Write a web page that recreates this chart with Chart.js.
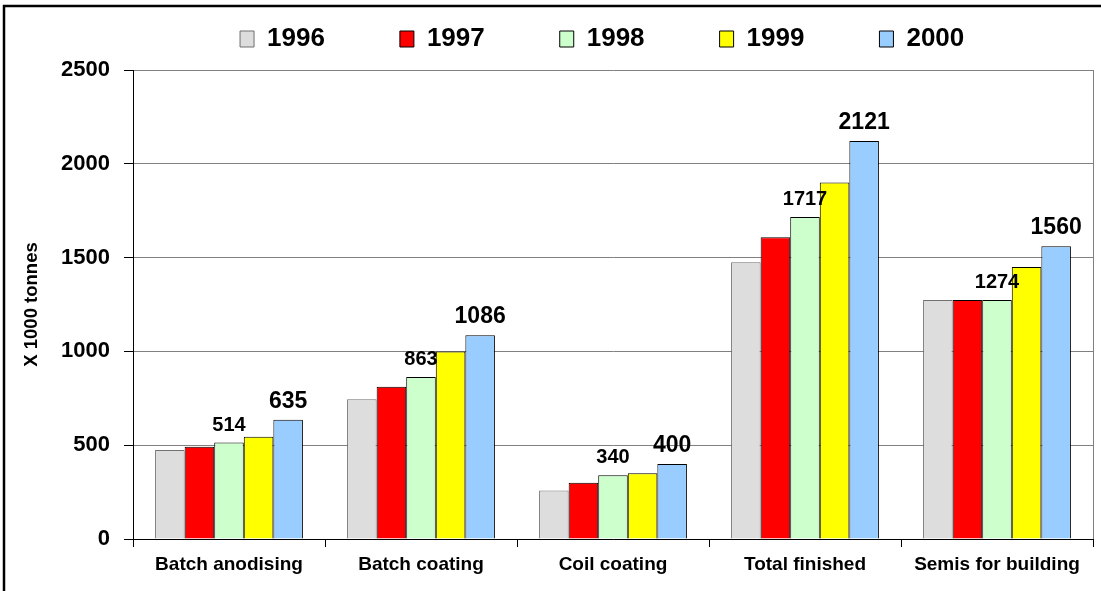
<!DOCTYPE html>
<html lang="en">
<head>
    <meta charset="UTF-8">
    <title>Aluminium finishing</title>
    <style>
      body { margin: 0; background: #fff; }
      #wrap { width: 1101px; height: 591px; }
    </style>
</head>
<body>
  <div id="wrap"><canvas id="myChart"></canvas></div>
  <script src="https://cdn.jsdelivr.net/npm/chart.js"></script>
  <script>
  const categories = ['Batch anodising', 'Batch coating', 'Coil coating', 'Total finished', 'Semis for building'];
  const years = ['1996', '1997', '1998', '1999', '2000'];
  const v1996 = [474, 745, 258, 1475, 1274];
  const v1997 = [492, 812, 300, 1608, 1274];
  const v1998 = [514, 863, 340, 1717, 1274];
  const v1999 = [545, 1000, 350, 1900, 1450];
  const v2000 = [635, 1086, 400, 2121, 1560];
  const yTicks = [0, 500, 1000, 1500, 2000, 2500];

  const colors = ['#DDDDDD', '#FF0000', '#CCFFCC', '#FFFF00', '#99CCFF'];
  const edges = ['#707070', '#000000', '#000000', '#000000', '#000000'];
  const FONT = "'Liberation Sans', Arial, sans-serif";

  // which series get value labels, and their font size
  const labelled = { 2: 20, 4: 23 };

  const valueLabels = {
    id: 'valueLabels',
    afterDatasetsDraw(chart) {
      const ctx = chart.ctx;
      ctx.save();
      ctx.fillStyle = '#000';
      ctx.textAlign = 'center';
      ctx.textBaseline = 'alphabetic';
      Object.keys(labelled).forEach(k => {
        const i = Number(k);
        ctx.font = 'bold ' + labelled[k] + 'px ' + FONT;
        chart.getDatasetMeta(i).data.forEach((bar, j) => {
          ctx.fillText(chart.data.datasets[i].data[j], bar.x, bar.y - 12);
        });
      });
      ctx.restore();
    }
  };

  const frame = {
    id: 'frame',
    beforeDatasetsDraw(chart) {
      const {ctx, chartArea} = chart;
      ctx.save();
      ctx.strokeStyle = '#808080';
      ctx.lineWidth = 1;
      ctx.beginPath();
      ctx.moveTo(Math.round(chartArea.right) + 0.5, chartArea.top);
      ctx.lineTo(Math.round(chartArea.right) + 0.5, chartArea.bottom);
      ctx.stroke();
      ctx.restore();
    },
    afterDraw(chart) {
      const ctx = chart.ctx;
      ctx.save();
      ctx.strokeStyle = '#000';
      ctx.lineWidth = 2.5;
      ctx.strokeRect(4, 6, 1200, 700);
      ctx.restore();
    }
  };

  const series = [v1996, v1997, v1998, v1999, v2000];

  new Chart(document.getElementById('myChart'), {
    type: 'bar',
    data: {
      labels: categories,
      datasets: years.map((y, i) => ({
        label: y,
        data: series[i],
        backgroundColor: colors[i],
        borderColor: edges[i],
        borderWidth: 1,
        barPercentage: 1,
        categoryPercentage: 0.77
      }))
    },
    options: {
      responsive: true,
      maintainAspectRatio: false,
      animation: false,
      layout: { padding: { top: 16, right: 8, left: 0, bottom: 0 } },
      plugins: {
        tooltip: { enabled: false },
        // empty spacer between legend and plot
        title: {
          display: true,
          text: '',
          weight: 1,
          padding: 0,
          font: { size: 8, lineHeight: 1 }
        },
        legend: {
          position: 'top',
          fullSize: false,
          labels: {
            boxWidth: 14,
            boxHeight: 16,
            padding: 10,
            color: '#000',
            font: { family: FONT, size: 26, weight: 'bold' },
            generateLabels(chart) {
              const items = Chart.defaults.plugins.legend.labels.generateLabels(chart);
              items.forEach((it, i) => {
                it.text = it.text + (i < items.length - 1 ? '         ' : '   ');
                it.lineWidth = 1;
                it.strokeStyle = i === 0 ? '#707070' : '#000';
              });
              return items;
            }
          }
        }
      },
      scales: {
        x: {
          grid: {
            display: true,
            drawOnChartArea: false,
            drawTicks: true,
            tickLength: 8,
            tickColor: '#000'
          },
          border: { color: '#000', width: 1 },
          ticks: {
            color: '#000',
            padding: 6,
            maxRotation: 0,
            font: { family: FONT, size: 19, weight: 'bold' }
          },
          afterFit(scale) { scale.height = 52; }
        },
        y: {
          min: 0,
          max: 2500,
          afterBuildTicks(scale) { scale.ticks = yTicks.map(v => ({ value: v })); },
          grid: {
            color: '#808080',
            lineWidth: 1,
            tickLength: 9,
            tickColor: '#000'
          },
          border: { color: '#000', width: 1 },
          ticks: {
            color: '#000',
            padding: 14,
            font: { family: FONT, size: 22, weight: 'bold' },
            callback: v => String(v)
          },
          title: {
            display: true,
            text: 'X 1000 tonnes',
            color: '#000',
            padding: { top: 21, bottom: 0 },
            font: { family: FONT, size: 18.5, weight: 'bold' }
          },
          afterFit(scale) { scale.width = 133; }
        }
      }
    },
    plugins: [valueLabels, frame]
  });
  </script>
</body>
</html>
